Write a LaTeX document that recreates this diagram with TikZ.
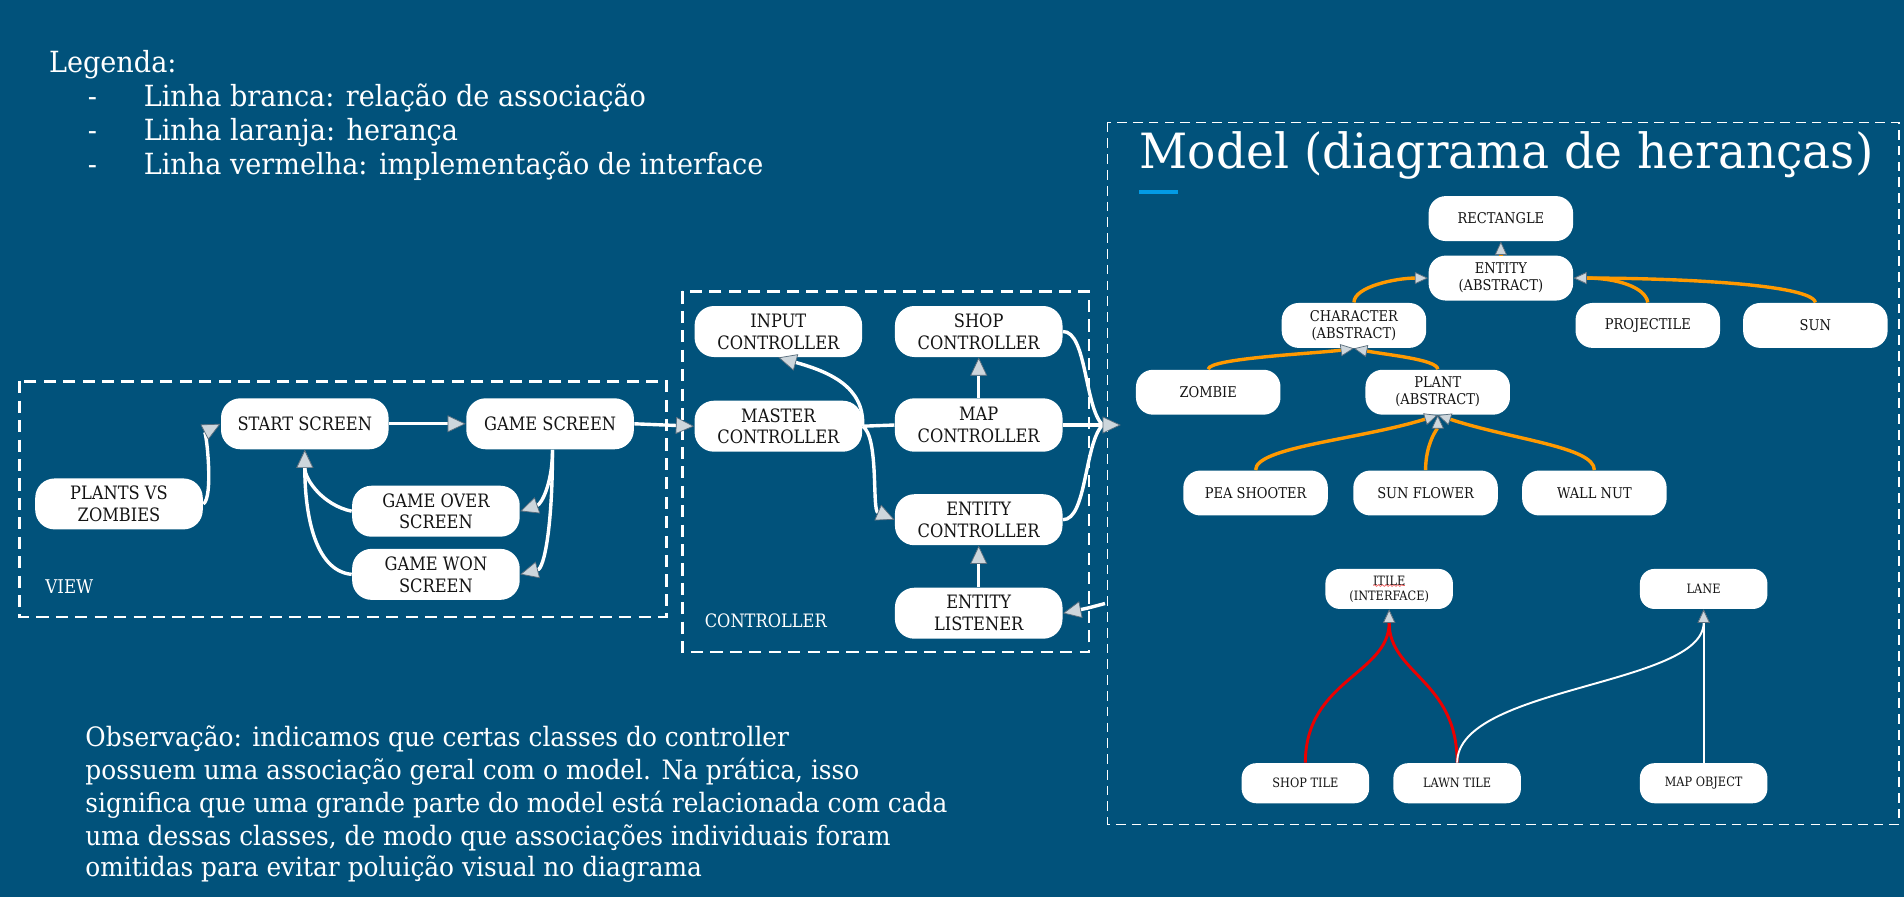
\documentclass[tikz,border=0pt]{standalone}
\usepackage{fontspec}
\setmainfont{DejaVu Serif}[FakeStretch=0.93]
\newfontfamily\nodefont{DejaVu Serif}[FakeStretch=0.88]
\newfontfamily\titlefont{DejaVu Serif}[FakeStretch=0.97]
\usetikzlibrary{arrows.meta,decorations.pathmorphing}
\definecolor{bg}{RGB}{1,82,123}
\definecolor{orng}{RGB}{255,153,0}
\definecolor{redl}{RGB}{235,0,0}
\definecolor{tipc}{RGB}{205,214,220}
\definecolor{tipedge}{RGB}{90,110,125}
\definecolor{nodetext}{RGB}{20,20,20}
\definecolor{barblue}{RGB}{3,155,229}
\begin{document}
\begin{tikzpicture}[x=0.5pt,y=-0.5pt,
  box/.style={fill=white, rounded corners=8pt, minimum width=69pt, minimum height=21pt,
    inner sep=1pt, align=center, text=nodetext, font=\nodefont\fontsize{7.6}{9}\selectfont},
  mbox/.style={box, rounded corners=7pt, minimum width=59.5pt, minimum height=18.5pt,
    font=\nodefont\fontsize{6.1}{7}\selectfont},
  tbox/.style={box, rounded corners=6pt, minimum width=52.5pt, minimum height=16.5pt,
    font=\nodefont\fontsize{5.3}{6.2}\selectfont},
  lbl/.style={text=white, inner sep=0pt, anchor=base west},
  wline/.style={draw=white, line width=1.4pt},
  oline/.style={draw=orng, line width=1.4pt},
  rline/.style={draw=redl, line width=1.2pt},
  tline/.style={draw=white, line width=0.8pt},
  wtip/.style={-{Triangle[length=7.5pt,width=7pt,fill=tipc,color=tipedge,line width=0.3pt]}},
  stip/.style={-{Triangle[length=5.5pt,width=5pt,fill=tipc,color=tipedge,line width=0.3pt]}},
  dbox/.style={draw=white, line width=1pt, dash pattern=on 5pt off 3pt}
]
\fill[bg] (0,0) rectangle (1568,739);
\useasboundingbox (0,0) rectangle (1568,739);

% legend
\node[lbl, font=\fontsize{12}{14}\selectfont] (leg0) at (40,60) {Legenda:};
\node[lbl, font=\fontsize{12}{14}\selectfont] (d1) at (72,88) {-};
\node[lbl, font=\fontsize{12}{14}\selectfont] (l1) at (118,88) {Linha branca: relação de associação};
\node[lbl, font=\fontsize{12}{14}\selectfont] (d2) at (72,116) {-};
\node[lbl, font=\fontsize{12}{14}\selectfont] (l2) at (118,116) {Linha laranja: herança};
\node[lbl, font=\fontsize{12}{14}\selectfont] (d3) at (72,144) {-};
\node[lbl, font=\fontsize{12}{14}\selectfont] (l3) at (118,144) {Linha vermelha: implementação de interface};

% observation
\node[lbl, font=\fontsize{11}{13}\selectfont] (o1) at (70,615) {Observação: indicamos que certas classes do controller};
\node[lbl, font=\fontsize{11}{13}\selectfont] (o2) at (70,642) {possuem uma associação geral com o model. Na prática, isso};
\node[lbl, font=\fontsize{11}{13}\selectfont] (o3) at (70,669) {significa que uma grande parte do model está relacionada com cada};
\node[lbl, font=\fontsize{11}{13}\selectfont] (o4) at (70,696) {uma dessas classes, de modo que associações individuais foram};
\node[lbl, font=\fontsize{11}{13}\selectfont] (o5) at (70,722) {omitidas para evitar poluição visual no diagrama};

% boxes
\draw[dbox] (16,314) rectangle (549,508);
\draw[dbox] (562,240) rectangle (897,537);
\draw[draw=white, line width=0.7pt, dash pattern=on 4pt off 2.5pt] (912,101) rectangle (1564,679);

\node[lbl, font=\nodefont\fontsize{7.8}{9}\selectfont] (viewlbl) at (37,489) {VIEW};
\node[lbl, font=\nodefont\fontsize{7.6}{9}\selectfont] (ctrllbl) at (580,517) {CONTROLLER};
\node[lbl, font=\titlefont\fontsize{20}{23}\selectfont] (title) at (938,139) {Model (diagrama de heranças)};
\draw[barblue, line width=1.5pt] (938,158) -- (970,158);

% view nodes
\node[box] (pvz) at (98,415) {PLANTS VS\\ZOMBIES};
\node[box] (start) at (251,349) {START SCREEN};
\node[box] (game) at (453,349) {GAME SCREEN};
\node[box] (over) at (359,421) {GAME OVER\\SCREEN};
\node[box] (won) at (359,473) {GAME WON\\SCREEN};

% controller nodes
\node[box] (input) at (641,273) {INPUT\\CONTROLLER};
\node[box] (shop) at (806,273) {SHOP\\CONTROLLER};
\node[box] (master) at (641,351) {MASTER\\CONTROLLER};
\node[box, minimum height=22pt] (map) at (806,350) {MAP\\CONTROLLER};
\node[box] (entc) at (806,428) {ENTITY\\CONTROLLER};
\node[box] (list) at (806,505) {ENTITY\\LISTENER};

% model nodes
\node[mbox] (rect) at (1236,180) {RECTANGLE};
\node[mbox] (entity) at (1236,229) {ENTITY\\(ABSTRACT)};
\node[mbox] (char) at (1115,268) {CHARACTER\\(ABSTRACT)};
\node[mbox] (proj) at (1357,268) {PROJECTILE};
\node[mbox] (sun) at (1495,268) {SUN};
\node[mbox] (zombie) at (995,323) {ZOMBIE};
\node[mbox] (plant) at (1184,323) {PLANT\\(ABSTRACT)};
\node[mbox] (pea) at (1034,406) {PEA SHOOTER};
\node[mbox] (sunf) at (1174,406) {SUN FLOWER};
\node[mbox] (wall) at (1313,406) {WALL NUT};
\node[tbox] (itile) at (1144,485) {ITILE\\(INTERFACE)};
\node[tbox] (lane) at (1403,485) {LANE};
\node[tbox] (shopt) at (1075,645) {SHOP TILE};
\node[tbox] (lawn) at (1200,645) {LAWN TILE};
\node[tbox] (mapo) at (1403,645) {MAP OBJECT};
\draw[redl!60!white, line width=0.3pt, decorate, decoration={snake, amplitude=0.35pt, segment length=1.6pt}]
  ([xshift=-6.5pt,yshift=1.4pt]itile.center) -- ([xshift=6.5pt,yshift=1.4pt]itile.center);

% view connectors
\draw[wline, wtip] (pvz.east) .. controls (176,410) and (170,355) .. (start.west);
\draw[wline, wtip] (start.east) -- (game.west);
\draw[wline, wtip] ([xshift=1pt]game.south) .. controls (455,398) and (446,415) .. (over.east);
\draw[wline, wtip] ([xshift=1pt]game.south) .. controls (455,435) and (448,468) .. (won.east);
\draw[wline, wtip] (over.west) .. controls (266,416) and (251,395) .. (start.south);
\draw[wline, wtip] (won.west) .. controls (258,470) and (251,420) .. (start.south);
\draw[wline, wtip] (game.east) -- (master.west);

% controller connectors
\coordinate (mjoin) at (908,350);
\coordinate (mtgt) at (923,350);
\coordinate (msrc) at (910,497);
\draw[wline, wtip] (master.east) .. controls (712,318) and (682,306) .. (input.south);
\draw[wline] (master.east) -- (map.west);
\draw[wline, wtip] (master.east) .. controls (724,360) and (718,420) .. (entc.west);
\draw[wline, wtip] (map.north) -- (shop.south);
\draw[wline, wtip] (list.north) -- (entc.south);
\draw[wline] (shop.east) .. controls (895,273) and (893,335) .. (mjoin);
\draw[wline] (entc.east) .. controls (895,428) and (893,365) .. (mjoin);
\draw[wline, wtip] (map.east) -- (mtgt);
\draw[wline, wtip] (msrc) .. controls (895,501) .. (list.east);

% model inheritance
\draw[oline, stip] (entity.north) -- (rect.south);
\draw[oline, stip] (char.north) .. controls (1115,236) and (1150,229) .. (entity.west);
\draw[oline, stip] (proj.north) .. controls (1355,236) and (1330,229) .. (entity.east);
\draw[oline, stip] (sun.north) .. controls (1492,234) and (1380,229) .. (entity.east);
\draw[oline, stip] (zombie.north) .. controls (995,295) and (1085,291) .. (char.south);
\draw[oline, stip] (plant.north) .. controls (1184,296) and (1140,292) .. (char.south);
\draw[oline, stip] (pea.north) .. controls (1034,368) and (1120,362) .. (plant.south);
\draw[oline, stip] (sunf.north) .. controls (1174,365) and (1184,352) .. (plant.south);
\draw[oline, stip] (wall.north) .. controls (1313,368) and (1245,362) .. (plant.south);

% interfaces and tile associations
\draw[rline, stip] (shopt.north) .. controls (1075,560) and (1144,555) .. (itile.south);
\draw[rline, stip] (lawn.north) .. controls (1200,560) and (1144,555) .. (itile.south);
\draw[tline, stip] (lawn.north) .. controls (1200,565) and (1403,565) .. (lane.south);
\draw[tline, stip] (mapo.north) -- (lane.south);
\end{tikzpicture}
\end{document}
